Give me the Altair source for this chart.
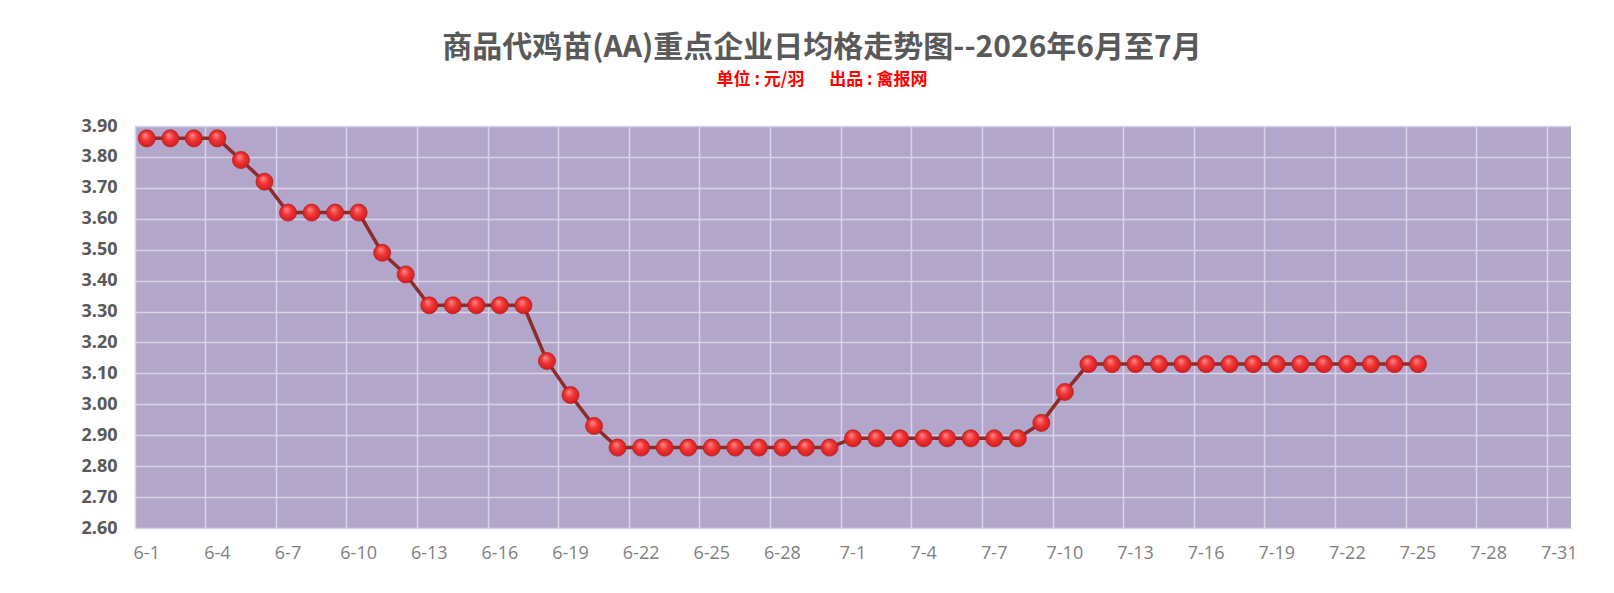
import altair as alt
import pandas as pd

# categories: every day from 6-1 to 7-31
june_days = [f"6-{d}" for d in range(1, 31)]
july_days = [f"7-{d}" for d in range(1, 32)]
all_dates = june_days + july_days

# observed prices (元/羽), 6-1 .. 7-25
dates = all_dates[:55]
prices = [
    3.86, 3.86, 3.86, 3.86, 3.79, 3.72, 3.62, 3.62, 3.62, 3.62,
    3.49, 3.42, 3.32, 3.32, 3.32, 3.32, 3.32, 3.14, 3.03, 2.93,
    2.86, 2.86, 2.86, 2.86, 2.86, 2.86, 2.86, 2.86, 2.86, 2.86,
    2.89, 2.89, 2.89, 2.89, 2.89, 2.89, 2.89, 2.89, 2.94, 3.04,
    3.13, 3.13, 3.13, 3.13, 3.13, 3.13, 3.13, 3.13, 3.13, 3.13,
    3.13, 3.13, 3.13, 3.13, 3.13,
]

x_label_values = all_dates[::3]
y_tick_values = [2.6, 2.7, 2.8, 2.9, 3.0, 3.1, 3.2, 3.3, 3.4, 3.5, 3.6, 3.7, 3.8, 3.9]

PLOT_W = 1436
PLOT_H = 402

df = pd.DataFrame({"date": dates, "price": prices})

x_enc = alt.X(
    "date:O",
    sort=all_dates,
    scale=alt.Scale(type="band", domain=all_dates, paddingInner=0, paddingOuter=0),
    axis=alt.Axis(
        values=x_label_values,
        title=None,
        labelAngle=0,
        bandPosition=0,
        grid=True,
        gridColor="#DAD3E7",
        gridWidth=1.5,
        ticks=False,
        domain=False,
        labelPadding=16,
        labelFontSize=18,
        labelColor="#7F7F7F",
        labelFont="Open Sans",
    ),
)
y_enc = alt.Y(
    "price:Q",
    scale=alt.Scale(domain=[2.6, 3.9], nice=False, zero=False),
    axis=alt.Axis(
        values=y_tick_values,
        format=".2f",
        title=None,
        grid=True,
        gridColor="#DAD3E7",
        gridWidth=1.5,
        ticks=False,
        domain=False,
        labelPadding=18,
        labelFontSize=18,
        labelFontWeight="bold",
        labelColor="#595959",
        labelFont="Open Sans",
    ),
)

line = alt.Chart(df).mark_line(color="#8E2B2B", strokeWidth=3.5).encode(x=x_enc, y=y_enc)

ball = alt.RadialGradient(
    gradient="radial",
    stops=[
        alt.GradientStop(offset=0, color="#FF8A8A"),
        alt.GradientStop(offset=0.45, color="#F03434"),
        alt.GradientStop(offset=1, color="#C81818"),
    ],
    x1=0.4, y1=0.3, r1=0.0, x2=0.5, y2=0.5, r2=0.6,
)
points = alt.Chart(df).mark_point(
    filled=True, size=290, opacity=1, fill=ball, stroke="#B82020", strokeWidth=0.8, shape="circle"
).encode(x=x_enc, y=y_enc)

chart = (
    alt.layer(line, points)
    .properties(
        width=PLOT_W,
        height=PLOT_H,
        padding={"left": 127, "top": 118, "right": 35, "bottom": 57},
        autosize=alt.AutoSizeParams(type="none"),
        title=alt.TitleParams(
            text="商品代鸡苗(AA)重点企业日均格走势图--2026年6月至7月",
            subtitle="单位 : 元/羽\u3000\u00a0\u00a0出品 : 禽报网",
            font="Noto Sans CJK SC",
            fontSize=30,
            fontWeight="bold",
            color="#595959",
            subtitleFont="Noto Sans CJK SC",
            subtitleFontSize=17,
            subtitleFontWeight="bold",
            subtitleColor="#FF0000",
            subtitlePadding=9,
            anchor="middle",
            dx=-31,
            offset=29,
        ),
    )
    .configure_view(fill="#B3A6CB", strokeWidth=0)
)

chart.save("out.html", embed_options={"renderer": "svg", "actions": False})
